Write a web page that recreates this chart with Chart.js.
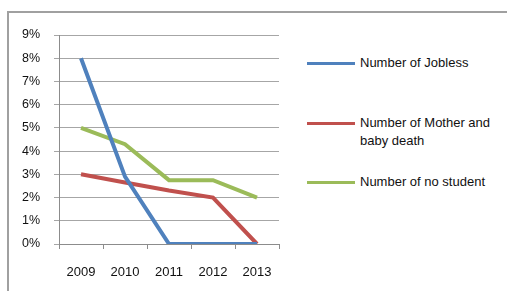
<!DOCTYPE html>
<html>
<head>
<meta charset="utf-8">
<script src="https://cdn.jsdelivr.net/npm/chart.js@4.4.0/dist/chart.umd.min.js"></script>
<style>
  html, body { margin: 0; padding: 0; background: #fff; }
  body { width: 507px; height: 291px; position: relative; overflow: hidden; font-family: "Liberation Sans", Arial, sans-serif; }
  #frame { position: absolute; left: 7px; top: 11px; width: 510px; height: 300px; border-top: 2px solid #a0a0a0; border-left: 2px solid #a0a0a0; }
  #wrap { position: absolute; left: 0; top: 0; width: 300px; height: 291px; }
  #legend { position: absolute; left: 307px; top: 0; }
  .item { position: absolute; left: 0; width: 200px; }
  .swatch { position: absolute; left: 0; width: 48px; height: 3px; }
  .txt { position: absolute; left: 53px; width: 150px; font-size: 13px; line-height: 18px; color: #111; }
</style>
</head>
<body>
<div id="frame"></div>
<div id="wrap"><canvas id="chart"></canvas></div>
<div id="legend"></div>
<script>
// Data (percent)
const years = ['2009', '2010', '2011', '2012', '2013'];
const jobless = [8, 2.9, 0, 0, 0];
const motherBabyDeath = [3, 2.65, 2.3, 2.0, 0];
const noStudent = [5, 4.3, 2.75, 2.75, 2.0];
const seriesNames = ['Number of Jobless', 'Number of Mother and baby death', 'Number of no student'];
const seriesColors = ['#4f81bd', '#c0504d', '#9bbb59'];

const ctx = document.getElementById('chart').getContext('2d');
const chart = new Chart(ctx, {
    type: 'line',
    data: {
        labels: years,
        datasets: [jobless, motherBabyDeath, noStudent].map(function(vals, i) {
            return {
                label: seriesNames[i],
                data: vals,
                borderColor: seriesColors[i],
                backgroundColor: seriesColors[i],
                borderWidth: 4,
                pointRadius: 0,
                tension: 0
            };
        })
    },
    options: {
        responsive: true,
        maintainAspectRatio: false,
        animation: false,
        layout: { padding: { left: 0, top: 35, right: 21, bottom: 0 } },
        plugins: {
            legend: { display: false },
            tooltip: { enabled: false }
        },
        scales: {
            x: {
                offset: true,
                grid: { offset: true, drawOnChartArea: false, tickLength: 5, color: '#8c8c8c' },
                border: { color: '#8c8c8c' },
                ticks: { color: '#111', font: { family: 'Liberation Sans', size: 13 }, padding: 16 },
                afterFit: function(s) { s.height = 47; }
            },
            y: {
                min: 0,
                max: 9,
                ticks: {
                    stepSize: 1,
                    color: '#111',
                    font: { family: 'Liberation Sans', size: 12.5 },
                    padding: 14,
                    callback: function(v) { return v + '%'; }
                },
                grid: { color: '#a6a6a6', tickLength: 5 },
                border: { color: '#8c8c8c' },
                afterFit: function(s) { s.width = 59; }
            }
        }
    }
});

// HTML legend on the right
const legendTops = [63, 123, 182];
const legend = document.getElementById('legend');
seriesNames.forEach(function(name, i) {
    const item = document.createElement('div');
    item.className = 'item';
    item.style.top = legendTops[i] + 'px';
    const sw = document.createElement('div');
    sw.className = 'swatch';
    sw.style.background = seriesColors[i];
    sw.style.top = '-1px';
    const t = document.createElement('div');
    t.className = 'txt';
    t.style.top = '-9px';
    t.textContent = name;
    item.appendChild(sw);
    item.appendChild(t);
    legend.appendChild(item);
});
</script>
</body>
</html>
